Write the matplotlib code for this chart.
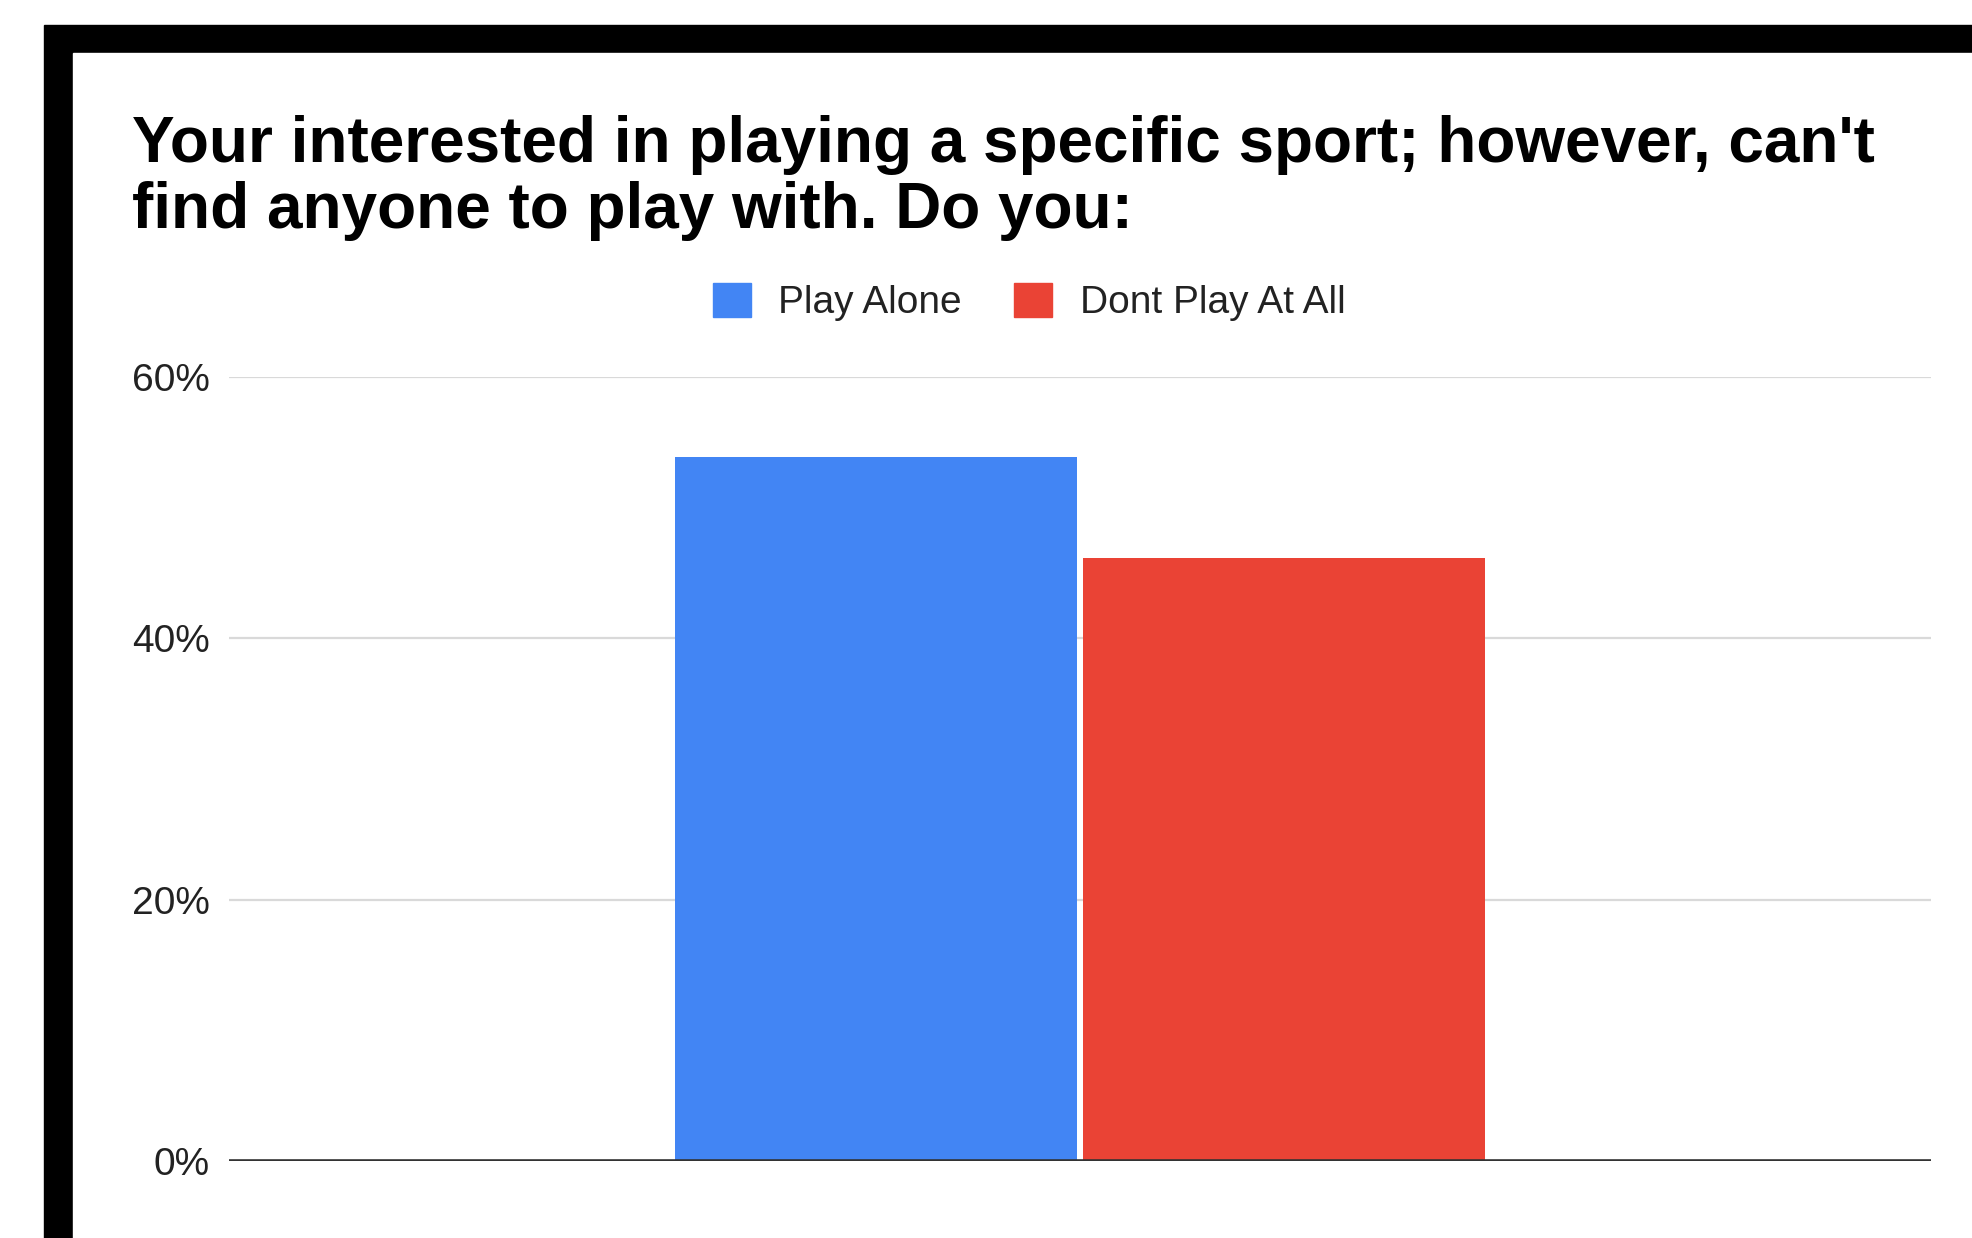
import matplotlib
matplotlib.use('Agg')
import matplotlib.pyplot as plt
from matplotlib.patches import Rectangle, Patch

# data
series = ['Play Alone', 'Dont Play At All']
values = [53.85, 46.15]
colors = ['#4285F4', '#EA4335']
yticks = [0, 20, 40, 60]
ytick_labels = ['0%', '20%', '40%', '60%']
title = "Your interested in playing a specific sport; however, can't\nfind anyone to play with. Do you:"

W, H = 1972, 1238
plt.rcParams['font.family'] = ['Liberation Sans', 'DejaVu Sans']

fig = plt.figure(figsize=(W / 100, H / 100), dpi=100)

# black frame around the screenshot (pixel coords -> figure fraction)
def px(x, y):
    return x / W, 1 - y / H

fig.patches.append(Rectangle(px(44, H), (W - 44) / W, (H - 25) / H,
                             transform=fig.transFigure, color='black', zorder=-2))
fig.patches.append(Rectangle(px(73, H), (W - 73) / W, (H - 53) / H,
                             transform=fig.transFigure, color='white', zorder=-1))

ax = fig.add_axes([229 / W, 1 - 1161 / H, (1931 - 229) / W, (1161 - 377) / H])
ax.set_zorder(2)
ax.set_facecolor('none')

offsets = [-0.12, 0.12]
for name, v, c, o in zip(series, values, colors, offsets):
    ax.bar(o, v, width=0.236, color=c, label=name, zorder=3)

ax.set_xlim(-0.5, 0.5)
ax.set_ylim(0, 60)
ax.set_yticks(yticks)
ax.set_yticklabels(ytick_labels)
ax.set_xticks([])
ax.tick_params(axis='y', length=0, pad=14, labelsize=28, labelcolor='#222222')
ax.grid(axis='y', color='#d9d9d9', linewidth=1.6, zorder=0)
ax.axhline(0, color='#333333', linewidth=2.6, zorder=4)
for s in ax.spines.values():
    s.set_visible(False)

handles = [Patch(color=c, label=n) for n, c in zip(series, colors)]
leg = fig.legend(handles=handles, loc='center', bbox_to_anchor=(1029 / W, 1 - 302 / H),
                 ncol=2, frameon=False, fontsize=28, handlelength=0.98,
                 handleheight=0.98, handletextpad=0.7, columnspacing=1.36,
                 borderpad=0)
for t in leg.get_texts():
    t.set_color('#222222')

fig.text(132 / W, 1 - 228 / H, title, ha='left', va='baseline', fontsize=46,
         fontweight='bold', linespacing=1.12, color='black')

fig.savefig('out.png', dpi=100)
